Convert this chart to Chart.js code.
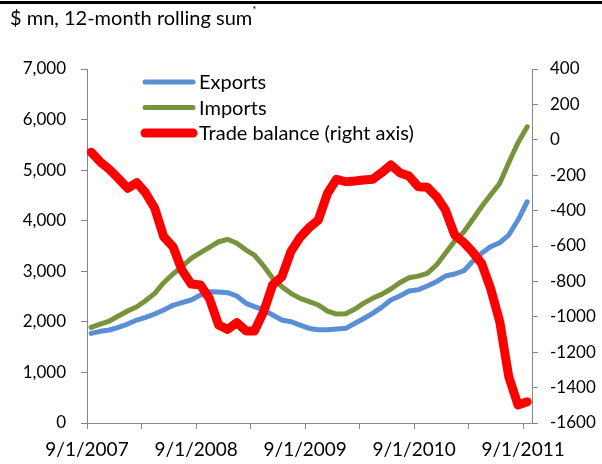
<!DOCTYPE html>
<html>
<head>
<meta charset="utf-8">
<script src="https://cdn.jsdelivr.net/npm/chart.js@4.4.1/dist/chart.umd.min.js"></script>
<style>
  body { margin: 0; background: #fff; }
  #wrap { position: relative; width: 602px; height: 464px; overflow: hidden; }
  #rule { position: absolute; left: 0; top: 1px; width: 602px; height: 3px; background: #000; }
  #title { position: absolute; left: 10px; top: 5px; font: 20px Lato, sans-serif; color: #000; white-space: nowrap; }
  #title sup { font-size: 10px; position: relative; top: -4px; }
  canvas { position: absolute; left: 0; top: 0; }
</style>
</head>
<body>
<div id="wrap">
  <canvas id="myChart" width="602" height="464"></canvas>
  <div id="rule"></div>
  <div id="title">$ mn, 12-month rolling sum<sup>*</sup></div>
</div>
<script>
// monthly points, 12-month rolling sums
var months = [
    '2007-09', '2007-10', '2007-11', '2007-12', '2008-01', '2008-02', '2008-03', '2008-04', '2008-05', '2008-06', '2008-07', '2008-08',
    '2008-09', '2008-10', '2008-11', '2008-12', '2009-01', '2009-02', '2009-03', '2009-04', '2009-05', '2009-06', '2009-07', '2009-08',
    '2009-09', '2009-10', '2009-11', '2009-12', '2010-01', '2010-02', '2010-03', '2010-04', '2010-05', '2010-06', '2010-07', '2010-08',
    '2010-09', '2010-10', '2010-11', '2010-12', '2011-01', '2011-02', '2011-03', '2011-04', '2011-05', '2011-06', '2011-07', '2011-08',
    '2011-09'
];

var exportsMn = [
    1773, 1813, 1839, 1892, 1957, 2036, 2089, 2155, 2234, 2327, 2379, 2432,
    2530, 2596, 2590, 2576, 2511, 2366, 2300, 2234, 2135, 2036, 2003, 1937,
    1870, 1845, 1845, 1858, 1872, 1971, 2062, 2168, 2287, 2432, 2511, 2610,
    2635, 2708, 2794, 2906, 2946, 3011, 3189, 3355, 3486, 3565, 3717, 4013,
    4375
];

var importsMn = [
    1892, 1957, 2016, 2115, 2214, 2300, 2418, 2564, 2774, 2946, 3090, 3256,
    3370, 3473, 3584, 3632, 3553, 3420, 3321, 3104, 2861, 2695, 2564, 2465,
    2400, 2333, 2214, 2155, 2161, 2254, 2366, 2465, 2544, 2649, 2774, 2873,
    2905, 2959, 3124, 3355, 3598, 3782, 4013, 4276, 4508, 4739, 5146, 5542,
    5858
];

var tradeBalance = [
    -70, -124, -167, -218, -274, -242, -299, -387, -547, -604, -736, -815,
    -820, -896, -1046, -1071, -1033, -1080, -1080, -971, -820, -773, -632, -551,
    -495, -453, -302, -223, -237, -233, -227, -223, -186, -142, -186, -205,
    -265, -268, -321, -397, -538, -581, -632, -698, -839, -1028, -1338, -1498,
    -1480
];

var tickDates = ['2007-09-01', '2008-03-01', '2008-09-01', '2009-03-01', '2009-09-01', '2010-03-01', '2010-09-01', '2011-03-01', '2011-09-01'];
var tickLabels = ['9/1/2007', '', '9/1/2008', '', '9/1/2009', '', '9/1/2010', '', '9/1/2011'];

var seriesNames = ['Exports', 'Imports', 'Trade balance (right axis)'];

var AXIS_GRAY = '#868686';

function toTime(s)
{
    var p = s.split('-');
    return Date.UTC(+p[0], +p[1] - 1, p[2] ? +p[2] : 15);
}

function asPoints(values)
{
    return values.map(function (v, i) { return { x: toTime(months[i]), y: v }; });
}

// legend drawn inside the plot area, as in the original
var innerLegend =
{
    id: 'innerLegend',
    afterDraw: function (chart)
    {
        var ctx = chart.ctx;
        var x0 = 145, x1 = 193, y = 82, step = 25.5;
        ctx.save();
        ctx.font = '20px Lato';
        ctx.textBaseline = 'middle';
        ctx.fillStyle = '#000';
        ctx.lineCap = 'round';
        chart.data.datasets.forEach(function (ds, i)
        {
            var yy = y + i * step;
            ctx.strokeStyle = ds.borderColor;
            ctx.lineWidth = ds.borderWidth;
            ctx.beginPath();
            ctx.moveTo(x0, yy);
            ctx.lineTo(x1, yy);
            ctx.stroke();
            ctx.fillText(ds.label, 199, yy + 1);
        });
        ctx.restore();
    }
};

Chart.defaults.font.family = 'Lato';
Chart.defaults.font.size = 17;
Chart.defaults.color = '#000';

var chartData =
{
    datasets: [
        {
            label: seriesNames[0],
            data: asPoints(exportsMn),
            borderColor: '#5A8FD6',
            borderWidth: 5,
            yAxisID: 'y',
            order: 1
        },
        {
            label: seriesNames[1],
            data: asPoints(importsMn),
            borderColor: '#77933C',
            borderWidth: 5,
            yAxisID: 'y',
            order: 2
        },
        {
            label: seriesNames[2],
            data: asPoints(tradeBalance),
            borderColor: '#FF0000',
            borderWidth: 9,
            yAxisID: 'y1',
            order: 0
        }
    ]
};

var chartOptions =
{
    responsive: false,
    animation: false,
    layout: { padding: { top: 69, left: 0, right: 0, bottom: 0 } },
    elements: {
        point: { radius: 0, hoverRadius: 0 },
        line: { tension: 0, borderCapStyle: 'round', borderJoinStyle: 'round', fill: false }
    },
    plugins: {
        legend: { display: false },
        tooltip: { enabled: false },
        title: { display: false }
    },
    scales: {
        x: {
            type: 'linear',
            min: toTime('2007-09-01'),
            max: toTime('2011-10-01'),
            afterBuildTicks: function (scale)
            {
                scale.ticks = tickDates.map(function (d) { return { value: toTime(d) }; });
            },
            afterFit: function (scale) { scale.height = 41; },
            grid: { display: true, drawOnChartArea: false, drawTicks: true, tickLength: 6, color: AXIS_GRAY },
            border: { display: true, color: AXIS_GRAY, width: 1 },
            ticks: {
                autoSkip: false,
                maxRotation: 0,
                padding: 9,
                font: { size: 19 },
                callback: function (value, index) { return tickLabels[index]; }
            }
        },
        y: {
            position: 'left',
            min: 0,
            max: 7000,
            afterFit: function (scale) { scale.width = 87; },
            grid: { display: true, drawOnChartArea: false, drawTicks: true, tickLength: 6, color: AXIS_GRAY },
            border: { display: true, color: AXIS_GRAY, width: 1 },
            ticks: {
                stepSize: 1000,
                padding: 15,
                callback: function (value) { return value.toLocaleString('en-US'); }
            }
        },
        y1: {
            position: 'right',
            min: -1600,
            max: 400,
            afterFit: function (scale) { scale.width = 70; },
            grid: { display: true, drawOnChartArea: false, drawTicks: true, tickLength: 6, color: AXIS_GRAY },
            border: { display: true, color: AXIS_GRAY, width: 1 },
            ticks: {
                stepSize: 200,
                padding: 12,
                callback: function (value) { return String(value); }
            }
        }
    }
};

var chart = new Chart(document.getElementById('myChart').getContext('2d'),
{
    type: 'line',
    data: chartData,
    options: chartOptions,
    plugins: [innerLegend]
});
</script>
</body>
</html>
